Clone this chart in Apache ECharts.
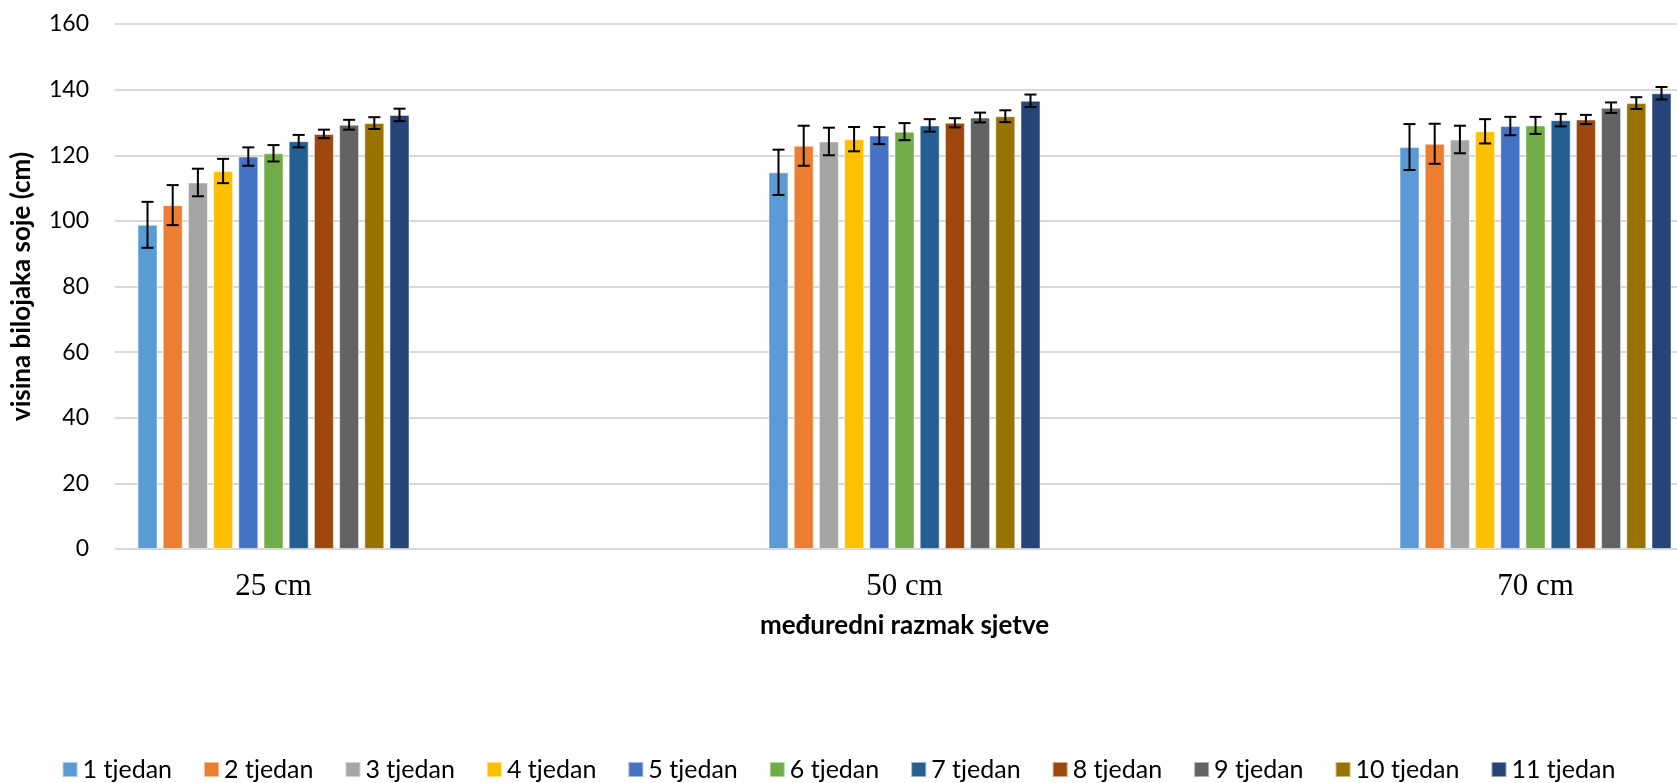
<!DOCTYPE html>
<html>
<head>
<meta charset="utf-8">
<title>visina biljaka soje</title>
<script src="https://cdn.jsdelivr.net/npm/echarts@6/dist/echarts.min.js"></script>
<style>
  html, body { margin: 0; padding: 0; background: #fff; }
  #chart { width: 1677px; height: 783px; }
</style>
</head>
<body>
<div id="chart"></div>
<script>
// kategorije (međuredni razmak) i tjedni
const categories = ['25 cm', '50 cm', '70 cm'];
const weeks = ['1 tjedan', '2 tjedan', '3 tjedan', '4 tjedan', '5 tjedan', '6 tjedan',
  '7 tjedan', '8 tjedan', '9 tjedan', '10 tjedan', '11 tjedan'];
const yTicks = [0, 20, 40, 60, 80, 100, 120, 140, 160];

// prosječna visina po tjednu, za svaki razmak
const mean25 = [98.8, 104.8, 111.7, 115.2, 119.6, 120.6, 124.3, 126.5, 129.3, 129.8, 132.3];
const mean50 = [114.8, 122.9, 124.2, 124.9, 126.0, 127.2, 129.1, 129.9, 131.5, 131.9, 136.6];
const mean70 = [122.5, 123.5, 124.8, 127.3, 128.9, 129.1, 130.7, 130.9, 134.5, 135.9, 138.9];
// standardna pogreška (+/-)
const err25 = [7.0, 6.1, 4.2, 3.7, 2.8, 2.5, 1.9, 1.3, 1.5, 1.8, 1.9];
const err50 = [6.9, 6.1, 4.2, 3.7, 2.6, 2.6, 1.9, 1.4, 1.5, 1.8, 1.9];
const err70 = [7.0, 6.1, 4.2, 3.7, 2.8, 2.6, 1.9, 1.4, 1.6, 1.8, 1.9];

const colors = ['#5B9BD5', '#ED7D31', '#A5A5A5', '#FFC000', '#4472C4', '#70AD47',
  '#255E91', '#9E480E', '#636363', '#997300', '#264478'];

const BAR_W = 20;
const BAR_GAP = '26%';
const FONT = 'Lato, "Open Sans", sans-serif';

const means = [mean25, mean50, mean70];
const errs = [err25, err50, err70];

// stupci
const barSeries = weeks.map((w, i) => ({
  name: w,
  type: 'bar',
  xAxisIndex: 1,
  yAxisIndex: 1,
  barWidth: BAR_W,
  barGap: BAR_GAP,
  itemStyle: { color: colors[i], borderColor: 'rgba(255,255,255,0.5)', borderWidth: 1 },
  data: means.map(m => m[i])
}));

// podaci za error barove: [kategorija, prosjek, pogreška, indeks tjedna]
const errData = [];
categories.forEach((c, ci) => {
  weeks.forEach((w, si) => {
    errData.push([ci, means[ci][si], errs[ci][si], si]);
  });
});

const renderError = (params, api) => {
  const ci = api.value(0);
  const m = api.value(1);
  const e = api.value(2);
  const si = api.value(3);
  const layout = api.barLayout({ count: weeks.length, barWidth: BAR_W, barGap: BAR_GAP });
  const off = layout ? layout[si].offsetCenter : (si - 5) * BAR_W * 1.26;
  const hi = api.coord([ci, m + e]);
  const lo = api.coord([ci, m - e]);
  const x = hi[0] + off;
  const cap = 6;
  const style = { stroke: '#000', lineWidth: 2 };
  return {
    type: 'group',
    children: [
      { type: 'line', shape: { x1: x, y1: hi[1], x2: x, y2: lo[1] }, style },
      { type: 'line', shape: { x1: x - cap, y1: hi[1], x2: x + cap, y2: hi[1] }, style },
      { type: 'line', shape: { x1: x - cap, y1: lo[1], x2: x + cap, y2: lo[1] }, style }
    ]
  };
};

const chart = echarts.init(document.getElementById('chart'));

const option = {
  animation: false,
  backgroundColor: '#fff',
  textStyle: { fontFamily: FONT },
  grid: [
    // mreža s y osi i linijama
    { left: 115, right: 0, top: 24, bottom: 234, outerBoundsMode: 'none' },
    // stupci - šira mreža, izlazi izvan platna s obje strane
    { left: -42, width: 1893, top: 24, bottom: 234, outerBoundsMode: 'none' }
  ],
  legend: {
    data: weeks,
    left: 'center',
    top: 752,
    itemWidth: 15,
    itemHeight: 15,
    itemGap: 31,
    icon: 'rect',
    textStyle: { fontFamily: FONT, fontSize: 25, color: '#000' }
  },
  xAxis: [
    { type: 'value', gridIndex: 0, show: false },
    {
      type: 'category',
      gridIndex: 1,
      data: categories,
      axisLine: { show: false },
      axisTick: { show: false },
      axisLabel: {
        fontFamily: '"Liberation Serif", "DejaVu Serif", serif',
        fontSize: 31,
        color: '#000',
        margin: 22
      },
      name: 'međuredni razmak sjetve',
      nameLocation: 'middle',
      nameGap: 64,
      nameTextStyle: { fontFamily: FONT, fontSize: 26, fontWeight: 'bold', color: '#000' }
    }
  ],
  yAxis: [
    {
      type: 'value',
      gridIndex: 0,
      min: yTicks[0],
      max: yTicks[yTicks.length - 1],
      interval: 20,
      axisLine: { show: false },
      axisTick: { show: false },
      axisLabel: { fontFamily: FONT, fontSize: 23, color: '#000', margin: 26 },
      splitLine: { lineStyle: { color: '#d9d9d9', width: 2 } },
      name: 'visina bilojaka soje (cm)',
      nameLocation: 'middle',
      nameGap: 80,
      nameRotate: 90,
      nameTextStyle: { fontFamily: FONT, fontSize: 26, fontWeight: 'bold', color: '#000' }
    },
    {
      type: 'value',
      gridIndex: 1,
      min: 0,
      max: 160,
      interval: 20,
      show: false
    }
  ],
  series: [
    ...barSeries,
    {
      type: 'custom',
      name: 'pogreška',
      xAxisIndex: 1,
      yAxisIndex: 1,
      z: 10,
      renderItem: renderError,
      data: errData
    }
  ]
};

chart.setOption(option);
</script>
</body>
</html>
